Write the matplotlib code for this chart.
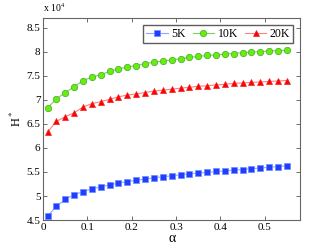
import numpy as np
import matplotlib.pyplot as plt

plt.rcParams['font.family'] = ['Liberation Serif', 'DejaVu Serif']
plt.rcParams['mathtext.fontset'] = 'stix'

#Data (values in units of 1e4)
alpha = [0.01, 0.03, 0.05, 0.07, 0.09, 0.11, 0.13, 0.15, 0.17, 0.19, 0.21, 0.23, 0.25, 0.27,
         0.29, 0.31, 0.33, 0.35, 0.37, 0.39, 0.41, 0.43, 0.45, 0.47, 0.49, 0.51, 0.53, 0.55]
h_5k = [4.58, 4.79, 4.93, 5.03, 5.09, 5.15, 5.19, 5.23, 5.27, 5.30, 5.33, 5.35, 5.38, 5.40,
        5.42, 5.44, 5.46, 5.48, 5.49, 5.51, 5.52, 5.54, 5.55, 5.57, 5.58, 5.60, 5.61, 5.63]
h_10k = [6.83, 7.02, 7.15, 7.27, 7.40, 7.47, 7.52, 7.59, 7.64, 7.68, 7.71, 7.75, 7.78, 7.80,
         7.83, 7.85, 7.88, 7.90, 7.92, 7.93, 7.95, 7.96, 7.98, 7.99, 8.00, 8.01, 8.02, 8.03]
h_20k = [6.33, 6.55, 6.65, 6.73, 6.85, 6.92, 6.96, 7.01, 7.06, 7.10, 7.12, 7.15, 7.18, 7.20,
         7.22, 7.24, 7.26, 7.28, 7.29, 7.31, 7.32, 7.34, 7.35, 7.36, 7.37, 7.38, 7.39, 7.40]
labels = ['5K', '10K', '20K']

fig = plt.figure(figsize=(3.32, 2.49), dpi=100)
ax = fig.add_axes([0.13, 0.116, 0.774, 0.812])

ax.plot(alpha, h_5k, color='#8fa5ff', lw=0.8, marker='s', ms=4.0,
        mfc='#1f3fff', mec='#6f8aff', mew=0.5, label=labels[0])
ax.plot(alpha, h_10k, color='#7fcf5f', lw=0.8, marker='o', ms=4.6,
        mfc='#66ee11', mec='#44aa22', mew=0.5, label=labels[1])
ax.plot(alpha, h_20k, color='#ff8080', lw=0.8, marker='^', ms=4.8,
        mfc='#ff0000', mec='#ee2222', mew=0.5, label=labels[2])

ax.set_xlim(0, 0.58)
ax.set_ylim(4.5, 8.7)
ax.set_xticks([0, 0.1, 0.2, 0.3, 0.4, 0.5])
ax.set_xticklabels(['0', '0.1', '0.2', '0.3', '0.4', '0.5'])
ax.set_yticks([4.5, 5, 5.5, 6, 6.5, 7, 7.5, 8, 8.5])
ax.set_yticklabels(['4.5', '5', '5.5', '6', '6.5', '7', '7.5', '8', '8.5'])
ax.tick_params(direction='in', top=True, right=True, labelsize=8, length=3,
               width=0.6, color='#555555', pad=2)
for s in ax.spines.values():
    s.set_color('#666666')
    s.set_linewidth(0.8)

ax.set_xlabel('α', fontsize=10, labelpad=0)
ax.set_ylabel(r'H$^*$', fontsize=9, labelpad=2)
fig.text(0.13, 0.945, r'x 10$^4$', fontsize=7, ha='left', va='bottom')

ax.legend(loc='upper right', ncol=3, fontsize=8.5, frameon=True, fancybox=False,
          edgecolor='#333333', handlelength=1.8, handletextpad=0.3,
          columnspacing=0.6, borderpad=0.25, borderaxespad=0.6)

fig.savefig('out.png', dpi=100)
